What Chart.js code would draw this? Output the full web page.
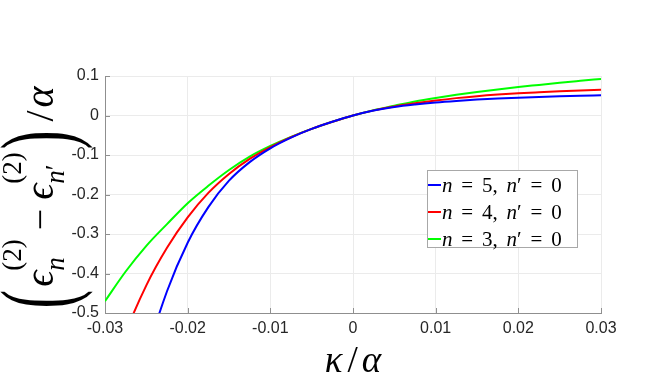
<!DOCTYPE html>
<html>
<head>
<meta charset="utf-8">
<script src="https://cdn.jsdelivr.net/npm/chart.js@4"></script>
<style>
  html, body { margin: 0; padding: 0; background: #fff; }
</style>
</head>
<body>
<canvas id="chart" width="664" height="392"></canvas>
<script>
// kappa/alpha sample points
const kappa = [-0.03, -0.0275, -0.025, -0.0225, -0.02, -0.0175, -0.015, -0.0125, -0.01, -0.0075, -0.005, -0.0025,
               0, 0.0025, 0.005, 0.0075, 0.01, 0.0125, 0.015, 0.0175, 0.02, 0.0225, 0.025, 0.0275, 0.03];

// (eps_n - eps_n') / alpha
const gapN5 = [-1.12, -0.83, -0.61, -0.445, -0.322, -0.232, -0.165, -0.118, -0.083, -0.056, -0.034, -0.016,
               0, 0.0125, 0.0215, 0.0278, 0.0328, 0.0368, 0.0402, 0.043, 0.0452, 0.047, 0.0485, 0.0498, 0.051];
const gapN4 = [-0.70, -0.55, -0.43, -0.335, -0.258, -0.196, -0.148, -0.11, -0.08, -0.055, -0.034, -0.016,
               0, 0.013, 0.023, 0.031, 0.038, 0.044, 0.049, 0.053, 0.0562, 0.0588, 0.0612, 0.0633, 0.0652];
const gapN3 = [-0.47, -0.395, -0.33, -0.275, -0.222, -0.178, -0.138, -0.104, -0.077, -0.054, -0.034, -0.016,
               0, 0.0135, 0.0245, 0.0355, 0.0445, 0.0525, 0.0595, 0.066, 0.072, 0.0775, 0.083, 0.0878, 0.0924];

const seriesLabels = ['n = 5, n′ = 0', 'n = 4, n′ = 0', 'n = 3, n′ = 0'];
const seriesColors = ['#0000ff', '#ff0000', '#00ff00'];

const xTickLabels = ['-0.03', '-0.02', '-0.01', '0', '0.01', '0.02', '0.03'];
const yTickLabels = ['-0.5', '-0.4', '-0.3', '-0.2', '-0.1', '0', '0.1'];

const MATH_FONT = '"Liberation Serif", "DejaVu Serif", serif';
const AXIS_COLOR = '#8f8f8f';

// letters italic, everything else upright, like LaTeX math mode
function isLetter(ch) { return /[A-Za-z\u03b1-\u03c9\u03f5]/.test(ch); }

function runWidth(ctx, str, size, sp) {
    let w = 0;
    for (const ch of str) {
        if (ch === ' ') { w += size * (sp || 0.3); continue; }
        ctx.font = (isLetter(ch) ? 'italic ' : '') + size + 'px ' + MATH_FONT;
        w += ctx.measureText(ch).width;
    }
    return w;
}

function drawRun(ctx, str, size, x, y, sp, stretch) {
    for (const ch of str) {
        if (ch === ' ') { x += size * (sp || 0.3); continue; }
        ctx.font = (isLetter(ch) ? 'italic ' : '') + size + 'px ' + MATH_FONT;
        if (stretch) {
            // tall delimiters: grow the glyph mostly in height
            ctx.save();
            ctx.translate(x, y);
            ctx.scale(1, stretch);
            ctx.fillText(ch, 0, 0);
            ctx.restore();
        } else {
            ctx.fillText(ch, x, y);
        }
        x += ctx.measureText(ch).width;
    }
    return x;
}

function partWidth(ctx, p) {
    const extra = (p.pre || 0) + (p.post || 0);
    if (p.sub !== undefined) {
        return Math.max(runWidth(ctx, p.sub, p.size), runWidth(ctx, p.sup, p.size)) + extra;
    }
    return runWidth(ctx, p.t, p.size) + extra;
}

function drawRich(ctx, parts, cx, y) {
    const total = parts.reduce((s, p) => s + partWidth(ctx, p), 0);
    let x = cx - total / 2;
    parts.forEach(p => {
        x += p.pre || 0;
        if (p.sub !== undefined) {
            drawRun(ctx, p.sub, p.size, x, y + p.subDy);
            drawRun(ctx, p.sup, p.size, x, y + p.supDy);
            x += Math.max(runWidth(ctx, p.sub, p.size), runWidth(ctx, p.sup, p.size));
        } else {
            drawRun(ctx, p.t, p.size, x, y + (p.dy || 0), 0.3, p.stretch);
            x += runWidth(ctx, p.t, p.size);
        }
        x += p.post || 0;
    });
}

const yTitleParts = [
    { t: '(', size: 56, stretch: 1.83, dy: 18 },
    { t: 'ϵ', size: 40, pre: 3 },
    { sub: 'n', sup: '(2)', size: 27, subDy: 11, supDy: -32 },
    { t: '−', size: 38, pre: 9, post: 9 },
    { t: 'ϵ', size: 40 },
    { sub: 'n′', sup: '(2)', size: 27, subDy: 11, supDy: -32 },
    { t: ')', size: 56, stretch: 1.83, dy: 18, pre: 3 },
    { t: '/', size: 40, pre: 9, post: 3 },
    { t: 'α', size: 40 }
];

const xTitleParts = [
    { t: 'κ', size: 37 },
    { t: '/', size: 37, pre: 5, post: 4 },
    { t: 'α', size: 37 }
];

const decorations = {
    id: 'decorations',
    afterDraw(chart) {
        const ctx = chart.ctx;
        const area = chart.chartArea;
        const xs = chart.scales.x, ys = chart.scales.y;
        ctx.save();

        // small inward ticks, matlab style
        ctx.strokeStyle = AXIS_COLOR;
        ctx.lineWidth = 1;
        ctx.beginPath();
        xs.ticks.forEach(t => {
            const px = Math.round(xs.getPixelForValue(t.value)) + 0.5;
            ctx.moveTo(px, area.bottom);
            ctx.lineTo(px, area.bottom - 5);
        });
        ys.ticks.forEach(t => {
            const py = Math.round(ys.getPixelForValue(t.value)) + 0.5;
            ctx.moveTo(area.left, py);
            ctx.lineTo(area.left + 5, py);
        });
        ctx.stroke();

        // axis titles
        ctx.fillStyle = '#000';
        ctx.textBaseline = 'alphabetic';
        drawRich(ctx, xTitleParts, (area.left + area.right) / 2, 372);

        ctx.save();
        ctx.translate(53, (area.top + area.bottom) / 2 + 3);
        ctx.rotate(-Math.PI / 2);
        drawRich(ctx, yTitleParts, 0, 0);
        ctx.restore();

        // legend box inside the axes
        const box = { x: 427, y: 170, w: 150, h: 77 };
        ctx.fillStyle = '#fff';
        ctx.fillRect(box.x, box.y, box.w, box.h);
        ctx.strokeStyle = '#a8a8a8';
        ctx.lineWidth = 1;
        ctx.strokeRect(box.x + 0.5, box.y + 0.5, box.w, box.h);

        chart.data.datasets.forEach((ds, i) => {
            const cy = box.y + 15 + i * 27;
            ctx.strokeStyle = ds.borderColor;
            ctx.lineWidth = 2;
            ctx.beginPath();
            ctx.moveTo(box.x + 1, cy);
            ctx.lineTo(box.x + 14, cy);
            ctx.stroke();
            ctx.fillStyle = '#000';
            drawRun(ctx, ds.label, 21, box.x + 15, cy + 7, 0.42);
        });

        ctx.restore();
    }
};

function tickText(labels) {
    return v => {
        const hit = labels.find(s => Math.abs(parseFloat(s) - v) < 1e-9);
        return hit === undefined ? '' : hit;
    };
}

const series = [gapN5, gapN4, gapN3];

new Chart(document.getElementById('chart'), {
    type: 'line',
    data: {
        datasets: series.map((vals, i) => ({
            label: seriesLabels[i],
            data: kappa.map((k, j) => ({ x: k, y: vals[j] })),
            borderColor: seriesColors[i],
            backgroundColor: seriesColors[i],
            borderWidth: 2,
            pointRadius: 0,
            cubicInterpolationMode: 'monotone',
            fill: false
        }))
    },
    options: {
        responsive: false,
        animation: false,
        devicePixelRatio: 1,
        layout: { padding: { left: 0, top: 76, right: 63, bottom: 0 } },
        plugins: {
            legend: { display: false },
            tooltip: { enabled: false }
        },
        scales: {
            x: {
                type: 'linear',
                min: -0.03,
                max: 0.03,
                afterFit(scale) { scale.height = 79; },
                ticks: {
                    stepSize: 0.01,
                    callback: tickText(xTickLabels),
                    maxRotation: 0,
                    padding: 6,
                    color: '#262626',
                    font: { family: '"Liberation Sans", Arial, sans-serif', size: 16 }
                },
                grid: { color: '#ebebeb', drawTicks: false },
                border: { display: true, color: AXIS_COLOR }
            },
            y: {
                type: 'linear',
                min: -0.5,
                max: 0.1,
                afterFit(scale) { scale.width = 105; },
                ticks: {
                    stepSize: 0.1,
                    callback: tickText(yTickLabels),
                    padding: 6,
                    color: '#262626',
                    font: { family: '"Liberation Sans", Arial, sans-serif', size: 16 }
                },
                grid: { color: '#ebebeb', drawTicks: false },
                border: { display: true, color: AXIS_COLOR }
            }
        }
    },
    plugins: [decorations]
});
</script>
</body>
</html>
